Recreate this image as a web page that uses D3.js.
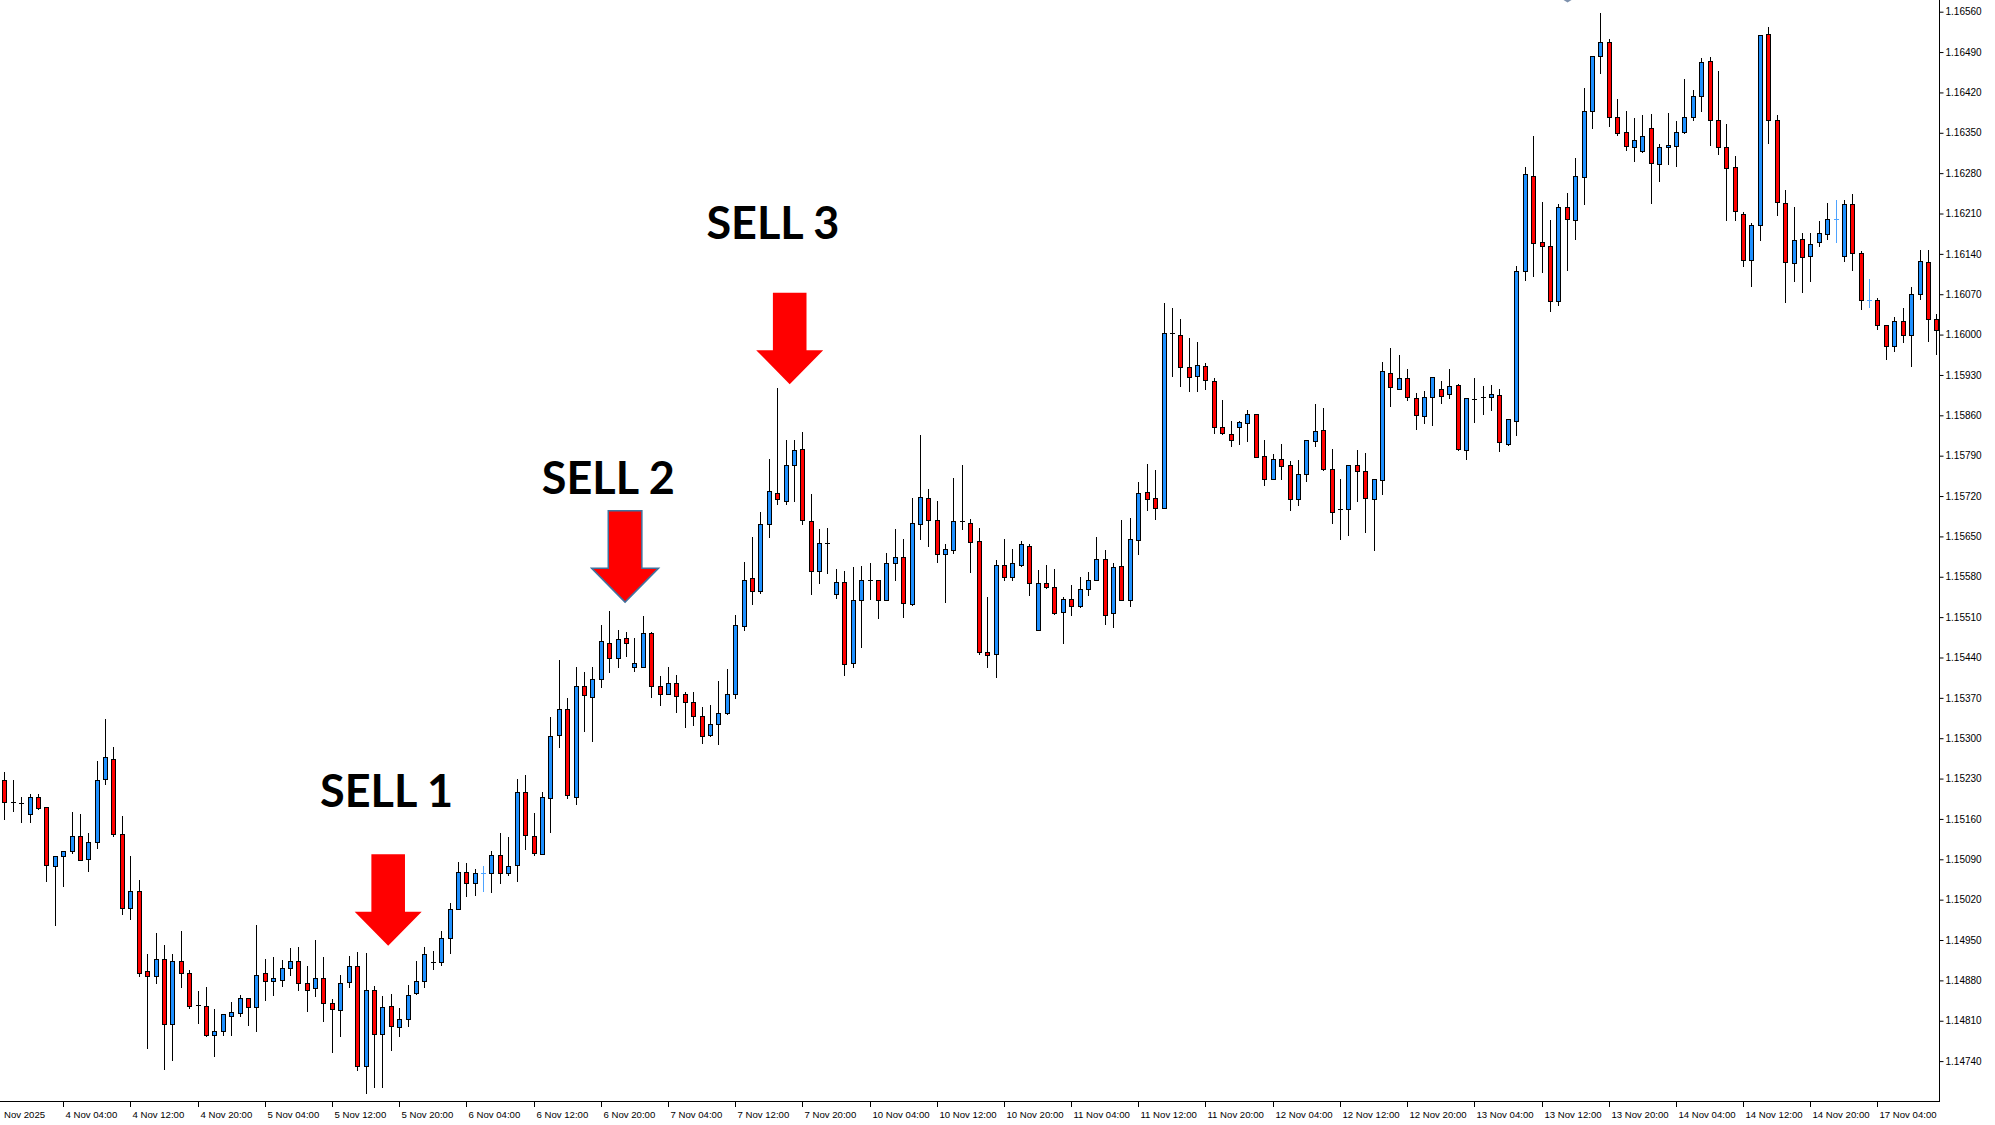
<!DOCTYPE html>
<html><head><meta charset="utf-8">
<script src="https://cdn.jsdelivr.net/npm/d3@7"></script>
<style>html,body{margin:0;padding:0;background:#fff;overflow:hidden}svg{display:block}</style>
</head><body>
<svg id="chart" width="1995" height="1125"></svg>
<script>
// ---- DATA (H1 candles, EURUSD-like) ----
const openP = [
1.15227,1.15190,1.15188,1.15169,1.15198,1.15180,1.15078,1.15095,1.15105,1.15130,
1.15090,1.15120,1.15229,1.15264,1.15134,1.15005,1.15035,1.14896,1.14887,1.14917,
1.14805,1.14913,1.14892,1.14837,1.14836,1.14786,1.14792,1.14819,1.14823,1.14849,
1.14834,1.14892,1.14879,1.14881,1.14902,1.14913,1.14875,1.14866,1.14884,1.14840,
1.14828,1.14877,1.14905,1.14731,1.14863,1.14787,1.14836,1.14799,1.14813,1.14858,
1.14879,1.14912,1.14912,1.14954,1.15004,1.15068,1.15049,1.15066,1.15066,1.15097,
1.15066,1.15080,1.15207,1.15130,1.15099,1.15196,1.15306,1.15351,1.15198,1.15391,
1.15372,1.15403,1.15465,1.15439,1.15474,1.15424,1.15424,1.15482,1.15391,1.15377,
1.15395,1.15376,1.15362,1.15339,1.15306,1.15325,1.15343,1.15377,1.15494,1.15578,
1.15556,1.15672,1.15726,1.15712,1.15774,1.15801,1.15677,1.15590,1.15639,1.15550,
1.15571,1.15430,1.15540,1.15575,1.15575,1.15540,1.15604,1.15615,1.15533,1.15672,
1.15717,1.15678,1.15620,1.15627,1.15677,1.15674,1.15642,1.15449,1.15446,1.15601,
1.15579,1.15601,1.15634,1.15488,1.15570,1.15563,1.15519,1.15542,1.15529,1.15558,
1.15575,1.15611,1.15517,1.15598,1.15540,1.15644,1.15727,1.15717,1.15699,1.16003,
1.16000,1.15944,1.15929,1.15946,1.15920,1.15839,1.15828,1.15839,1.15846,1.15863,
1.15789,1.15749,1.15785,1.15773,1.15715,1.15758,1.15815,1.15834,1.15767,1.15697,
1.15697,1.15774,1.15764,1.15714,1.15747,1.15934,1.15905,1.15925,1.15890,1.15859,
1.15891,1.15905,1.15897,1.15913,1.15799,1.15888,1.15891,1.15892,1.15896,1.15811,
1.15851,1.16110,1.16275,1.16161,1.16153,1.16058,1.16221,1.16198,1.16273,1.16387,
1.16484,1.16507,1.16378,1.16352,1.16325,1.16319,1.16358,1.16296,1.16325,1.16327,
1.16352,1.16378,1.16414,1.16474,1.16373,1.16325,1.16290,1.16209,1.16130,1.16190,
1.16522,1.16373,1.16228,1.16124,1.16165,1.16136,1.16160,1.16174,1.16201,1.16137,
1.16227,1.16141,1.16060,1.16060,1.16017,1.15981,1.16023,1.16000,1.16070,1.16126,
1.16027];
const highP = [
1.15242,1.15227,1.15198,1.15203,1.15203,1.15180,1.15095,1.15105,1.15172,1.15169,
1.15135,1.15261,1.15333,1.15284,1.15165,1.15095,1.15054,1.14925,1.14963,1.14942,
1.14926,1.14965,1.14898,1.14861,1.14868,1.14830,1.14821,1.14843,1.14854,1.14849,
1.14976,1.14917,1.14920,1.14915,1.14936,1.14938,1.14905,1.14950,1.14921,1.14847,
1.14889,1.14922,1.14930,1.14928,1.14870,1.14853,1.14856,1.14832,1.14872,1.14913,
1.14938,1.14931,1.14965,1.15014,1.15085,1.15084,1.15074,1.15078,1.15105,1.15135,
1.15129,1.15229,1.15236,1.15170,1.15207,1.15336,1.15435,1.15370,1.15423,1.15414,
1.15424,1.15497,1.15520,1.15487,1.15484,1.15474,1.15512,1.15484,1.15408,1.15424,
1.15409,1.15380,1.15381,1.15354,1.15358,1.15400,1.15420,1.15514,1.15605,1.15649,
1.15692,1.15784,1.15908,1.15818,1.15817,1.15831,1.15723,1.15662,1.15665,1.15594,
1.15590,1.15597,1.15599,1.15603,1.15575,1.15622,1.15662,1.15645,1.15717,1.15826,
1.15733,1.15711,1.15637,1.15752,1.15774,1.15681,1.15664,1.15545,1.15609,1.15645,
1.15628,1.15642,1.15636,1.15591,1.15600,1.15593,1.15545,1.15566,1.15579,1.15589,
1.15649,1.15626,1.15603,1.15679,1.15682,1.15744,1.15775,1.15766,1.16054,1.16046,
1.16027,1.15994,1.15988,1.15951,1.15924,1.15887,1.15851,1.15851,1.15869,1.15863,
1.15818,1.15793,1.15810,1.15781,1.15783,1.15818,1.15880,1.15872,1.15802,1.15750,
1.15774,1.15799,1.15795,1.15750,1.15953,1.15976,1.15965,1.15940,1.15899,1.15903,
1.15927,1.15920,1.15940,1.15915,1.15890,1.15925,1.15911,1.15913,1.15905,1.15853,
1.16119,1.16291,1.16344,1.16230,1.16199,1.16226,1.16245,1.16307,1.16427,1.16484,
1.16557,1.16513,1.16408,1.16388,1.16375,1.16380,1.16382,1.16331,1.16385,1.16371,
1.16443,1.16425,1.16479,1.16482,1.16458,1.16366,1.16309,1.16213,1.16194,1.16520,
1.16533,1.16380,1.16251,1.16222,1.16177,1.16177,1.16197,1.16229,1.16233,1.16234,
1.16243,1.16145,1.16096,1.16063,1.16017,1.16030,1.16046,1.16082,1.16146,1.16146,
1.16036];
const lowP = [
1.15160,1.15173,1.15154,1.15155,1.15177,1.15052,1.14976,1.15044,1.15101,1.15088,
1.15069,1.15109,1.15220,1.15130,1.14995,1.14986,1.14887,1.14763,1.14876,1.14726,
1.14742,1.14869,1.14832,1.14806,1.14783,1.14748,1.14786,1.14786,1.14819,1.14802,
1.14792,1.14846,1.14854,1.14871,1.14890,1.14864,1.14827,1.14853,1.14809,1.14755,
1.14784,1.14868,1.14724,1.14685,1.14695,1.14695,1.14760,1.14784,1.14801,1.14856,
1.14869,1.14900,1.14907,1.14928,1.15004,1.15026,1.15028,1.15035,1.15033,1.15049,
1.15063,1.15053,1.15107,1.15097,1.15099,1.15138,1.15285,1.15196,1.15186,1.15312,
1.15295,1.15388,1.15414,1.15423,1.15443,1.15416,1.15424,1.15371,1.15358,1.15377,
1.15345,1.15320,1.15323,1.15292,1.15304,1.15290,1.15342,1.15370,1.15488,1.15533,
1.15552,1.15649,1.15707,1.15707,1.15711,1.15671,1.15550,1.15570,1.15587,1.15544,
1.15409,1.15423,1.15458,1.15542,1.15508,1.15540,1.15575,1.15510,1.15531,1.15645,
1.15634,1.15605,1.15537,1.15622,1.15663,1.15589,1.15446,1.15423,1.15406,1.15575,
1.15575,1.15598,1.15548,1.15488,1.15561,1.15516,1.15465,1.15513,1.15527,1.15548,
1.15574,1.15498,1.15493,1.15540,1.15529,1.15620,1.15695,1.15680,1.15699,1.15928,
1.15910,1.15902,1.15902,1.15906,1.15830,1.15827,1.15807,1.15811,1.15815,1.15788,
1.15740,1.15749,1.15750,1.15696,1.15705,1.15746,1.15807,1.15766,1.15674,1.15645,
1.15652,1.15712,1.15658,1.15626,1.15724,1.15877,1.15905,1.15886,1.15836,1.15846,
1.15844,1.15882,1.15890,1.15799,1.15785,1.15848,1.15863,1.15869,1.15798,1.15808,
1.15825,1.16095,1.16101,1.16109,1.16041,1.16052,1.16112,1.16165,1.16227,1.16359,
1.16453,1.16362,1.16347,1.16320,1.16301,1.16316,1.16229,1.16267,1.16296,1.16293,
1.16349,1.16373,1.16387,1.16329,1.16313,1.16198,1.16198,1.16119,1.16084,1.16164,
1.16333,1.16207,1.16056,1.16093,1.16074,1.16093,1.16153,1.16165,1.16161,1.16128,
1.16112,1.16045,1.16047,1.16009,1.15958,1.15971,1.15987,1.15946,1.16061,1.15989,
1.15967];
const closeP = [
1.15190,1.15190,1.15188,1.15198,1.15179,1.15080,1.15095,1.15105,1.15130,1.15088,
1.15120,1.15227,1.15267,1.15134,1.15005,1.15035,1.14893,1.14887,1.14917,1.14805,
1.14913,1.14892,1.14835,1.14837,1.14786,1.14792,1.14821,1.14826,1.14849,1.14834,
1.14890,1.14879,1.14884,1.14902,1.14913,1.14875,1.14863,1.14884,1.14840,1.14830,
1.14875,1.14905,1.14731,1.14863,1.14787,1.14834,1.14801,1.14813,1.14855,1.14879,
1.14925,1.14912,1.14954,1.15004,1.15068,1.15049,1.15066,1.15067,1.15097,1.15066,
1.15078,1.15207,1.15132,1.15101,1.15198,1.15304,1.15351,1.15201,1.15391,1.15375,
1.15403,1.15468,1.15439,1.15472,1.15465,1.15431,1.15482,1.15391,1.15376,1.15395,
1.15374,1.15362,1.15338,1.15304,1.15325,1.15343,1.15377,1.15497,1.15575,1.15555,
1.15671,1.15729,1.15714,1.15773,1.15799,1.15679,1.15590,1.15639,1.15639,1.15571,
1.15428,1.15540,1.15575,1.15575,1.15540,1.15604,1.15615,1.15535,1.15673,1.15718,
1.15679,1.15620,1.15629,1.15677,1.15677,1.15641,1.15449,1.15445,1.15601,1.15579,
1.15604,1.15636,1.15569,1.15570,1.15563,1.15517,1.15542,1.15529,1.15559,1.15574,
1.15611,1.15513,1.15597,1.15540,1.15645,1.15725,1.15715,1.15699,1.16003,1.16003,
1.15944,1.15927,1.15948,1.15921,1.15839,1.15830,1.15818,1.15849,1.15863,1.15788,
1.15749,1.15785,1.15772,1.15715,1.15758,1.15818,1.15832,1.15767,1.15693,1.15697,
1.15774,1.15764,1.15716,1.15750,1.15936,1.15909,1.15925,1.15891,1.15861,1.15892,
1.15927,1.15894,1.15911,1.15801,1.15890,1.15888,1.15891,1.15897,1.15813,1.15853,
1.16110,1.16278,1.16159,1.16153,1.16058,1.16221,1.16201,1.16275,1.16387,1.16484,
1.16507,1.16378,1.16349,1.16327,1.16337,1.16345,1.16298,1.16325,1.16329,1.16352,
1.16378,1.16414,1.16472,1.16373,1.16325,1.16289,1.16214,1.16130,1.16190,1.16520,
1.16373,1.16230,1.16126,1.16164,1.16134,1.16157,1.16176,1.16201,1.16202,1.16227,
1.16142,1.16060,1.16061,1.16016,1.15981,1.16023,1.16000,1.16070,1.16128,1.16027,
1.16008];

const timeLabels = ["Nov 2025","4 Nov 04:00","4 Nov 12:00","4 Nov 20:00","5 Nov 04:00","5 Nov 12:00","5 Nov 20:00",
  "6 Nov 04:00","6 Nov 12:00","6 Nov 20:00","7 Nov 04:00","7 Nov 12:00","7 Nov 20:00","10 Nov 04:00","10 Nov 12:00",
  "10 Nov 20:00","11 Nov 04:00","11 Nov 12:00","11 Nov 20:00","12 Nov 04:00","12 Nov 12:00","12 Nov 20:00",
  "13 Nov 04:00","13 Nov 12:00","13 Nov 20:00","14 Nov 04:00","14 Nov 12:00","14 Nov 20:00","17 Nov 04:00"];
const timeTickIdx = [-1,7,15,23,31,39,47,55,63,71,79,87,95,103,111,119,127,135,143,151,159,167,175,183,191,199,207,215,223];

const priceTicks = [1.16560,1.16490,1.16420,1.16350,1.16280,1.16210,1.16140,1.16070,1.16000,1.15930,1.15860,
  1.15790,1.15720,1.15650,1.15580,1.15510,1.15440,1.15370,1.15300,1.15230,1.15160,1.15090,1.15020,1.14950,
  1.14880,1.14810,1.14740];

const signalText = ["SELL 1","SELL 2","SELL 3"];
const signalTipIdx = [45.7, 73.9, 93.5];
const signalTipPrice = [1.14940, 1.15536, 1.15914];
const signalTextIdx = [45.5, 71.9, 91.5];
const signalTextPrice = [1.15180, 1.15724, 1.16165];
const signalOutlined = [false, true, false];

// ---- LAYOUT ----
const W = 1995, H = 1125;
const plotRight = 1939, axisY = 1101;
const svg = d3.select('#chart');
const x = d3.scaleLinear().domain([0, 230]).range([4.3, 4.3 + 230 * 8.4]);
const y = d3.scaleLinear().domain([1.14740, 1.16560]).range([1061.1, 11.7]);

svg.append('rect').attr('width', W).attr('height', H).attr('fill', '#fff');
svg.append('defs').append('clipPath').attr('id', 'plot')
  .append('rect').attr('x', 0).attr('y', 0).attr('width', plotRight).attr('height', axisY);

const data = openP.map((o, i) => ({ i, o, h: highP[i], l: lowP[i], c: closeP[i] }));
const g = svg.append('g').attr('clip-path', 'url(#plot)');

const cand = g.selectAll('g.c').data(data).join('g').attr('class', 'c');
cand.each(function (d) {
  const s = d3.select(this);
  const cx = Math.round(x(d.i));
  const yo = y(d.o), yc = y(d.c);
  const flat = Math.abs(yo - yc) < 1.2;
  const col = flat && d.c > d.o ? '#4da3ff' : '#000';
  s.append('line')
    .attr('x1', cx + 0.5).attr('x2', cx + 0.5)
    .attr('y1', Math.round(y(d.h))).attr('y2', Math.round(y(d.l)) + 1)
    .attr('stroke', col).attr('stroke-width', 1);
  if (flat) {
    s.append('line')
      .attr('x1', cx - 2).attr('x2', cx + 3)
      .attr('y1', Math.round(yo) + 0.5).attr('y2', Math.round(yo) + 0.5)
      .attr('stroke', col).attr('stroke-width', 1);
  } else {
    const t = Math.round(Math.min(yo, yc)), b = Math.round(Math.max(yo, yc));
    s.append('rect')
      .attr('x', cx - 2 + 0.5).attr('y', t + 0.5)
      .attr('width', 4).attr('height', Math.max(1, b - t))
      .attr('fill', d.c > d.o ? '#1e90ff' : '#ff0000')
      .attr('stroke', '#000').attr('stroke-width', 1);
  }
});

// ---- AXES ----
svg.append('line').attr('x1', plotRight + 0.5).attr('x2', plotRight + 0.5).attr('y1', 0).attr('y2', axisY + 1)
  .attr('stroke', '#000');
svg.append('line').attr('x1', 0).attr('x2', plotRight + 1).attr('y1', axisY + 0.5).attr('y2', axisY + 0.5)
  .attr('stroke', '#000');

const yAxis = d3.axisRight(y).tickValues(priceTicks).tickSize(4).tickPadding(2).tickFormat(d3.format('.5f'));
const ya = svg.append('g').attr('transform', `translate(${plotRight + 0.5},0)`).call(yAxis);
ya.select('.domain').remove();
ya.selectAll('.tick line').attr('stroke', '#000');
ya.selectAll('.tick text').attr('fill', '#000').attr('font-family', '"Liberation Sans", Arial, sans-serif')
  .attr('font-size', '10px');

const tickX = timeTickIdx.map(i => x(i));
const xa = svg.append('g');
xa.selectAll('line').data(timeTickIdx.filter(i => i >= 0)).join('line')
  .attr('x1', i => Math.round(x(i)) + 0.5).attr('x2', i => Math.round(x(i)) + 0.5)
  .attr('y1', axisY + 1).attr('y2', axisY + 6).attr('stroke', '#000');
xa.selectAll('text').data(timeLabels).join('text')
  .attr('x', (t, k) => Math.max(4, Math.round(tickX[k]) + 2.5))
  .attr('y', 1118)
  .attr('fill', '#000')
  .attr('font-family', '"Liberation Sans", Arial, sans-serif')
  .attr('font-size', '9.6px')
  .text(t => t);

// ---- SIGNALS ----
const arrowPath = (tx, ty) => {
  const pts = [[0, 0], [-33.5, -34], [-16.8, -34], [-16.8, -91.5], [16.8, -91.5], [16.8, -34], [33.5, -34]];
  return 'M' + pts.map(p => (tx + p[0]) + ',' + (ty + p[1])).join('L') + 'Z';
};
signalText.forEach((t, k) => {
  const tx = x(signalTipIdx[k]), ty = y(signalTipPrice[k]);
  svg.append('path').attr('d', arrowPath(tx, ty))
    .attr('fill', '#ff0000')
    .attr('stroke', signalOutlined[k] ? '#41719c' : 'none')
    .attr('stroke-width', 1.5);
  svg.append('text')
    .attr('x', x(signalTextIdx[k])).attr('y', y(signalTextPrice[k]))
    .attr('text-anchor', 'middle')
    .attr('font-family', 'Lato, "Open Sans", sans-serif')
    .attr('font-weight', 'bold')
    .attr('font-size', '45px')
    .attr('fill', '#000')
    .text(t);
});
// small off-screen arrow tip visible at the top edge
svg.append('path').attr('d', `M${x(186.1) - 4},0L${x(186.1) + 4},0L${x(186.1)},2.5Z`).attr('fill', '#7d91ad');
</script>
</body></html>
